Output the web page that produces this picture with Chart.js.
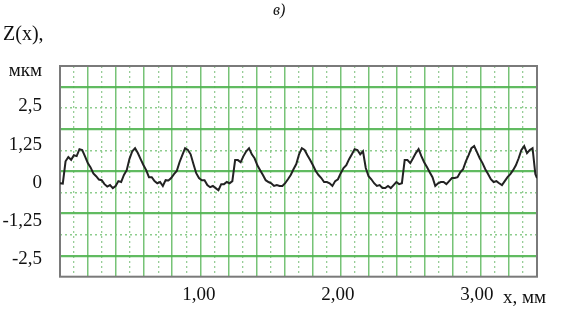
<!DOCTYPE html>
<html>
<head>
<meta charset="utf-8">
<script src="https://cdn.jsdelivr.net/npm/chart.js@4/dist/chart.umd.min.js"></script>
<style>
  html, body { margin: 0; padding: 0; background: #fff; }
  #wrap { width: 561px; height: 310px; position: relative; }
</style>
</head>
<body>
<div id="wrap"><canvas id="c" width="561" height="310"></canvas></div>
<script>
// x positions along the profile, mm
const xs = [
  0.00,0.02,0.04,0.06,0.08,0.10,0.12,0.14,0.16,0.18,
  0.20,0.22,0.24,0.26,0.28,0.30,0.32,0.34,0.36,0.38,
  0.40,0.42,0.44,0.46,0.48,0.50,0.52,0.54,0.56,0.58,
  0.60,0.62,0.64,0.66,0.68,0.70,0.72,0.74,0.76,0.78,
  0.80,0.82,0.84,0.86,0.88,0.90,0.92,0.94,0.96,0.98,
  1.00,1.02,1.04,1.06,1.08,1.10,1.12,1.14,1.16,1.18,
  1.20,1.22,1.24,1.26,1.28,1.30,1.32,1.34,1.36,1.38,
  1.40,1.42,1.44,1.46,1.48,1.50,1.52,1.54,1.56,1.58,
  1.60,1.62,1.64,1.66,1.68,1.70,1.72,1.74,1.76,1.78,
  1.80,1.82,1.84,1.86,1.88,1.90,1.92,1.94,1.96,1.98,
  2.00,2.02,2.04,2.06,2.08,2.10,2.12,2.14,2.16,2.18,
  2.20,2.22,2.24,2.26,2.28,2.30,2.32,2.34,2.36,2.38,
  2.40,2.42,2.44,2.46,2.48,2.50,2.52,2.54,2.56,2.58,
  2.60,2.62,2.64,2.66,2.68,2.70,2.72,2.74,2.76,2.78,
  2.80,2.82,2.84,2.86,2.88,2.90,2.92,2.94,2.96,2.98,
  3.00,3.02,3.04,3.06,3.08,3.10,3.12,3.14,3.16,3.18,
  3.20,3.22,3.24,3.26,3.28,3.30,3.32,3.34,3.36,3.38,
  3.40,3.42,3.432
];
// profile height Z(x), µm
const zs = [
  -0.02,-0.03,0.70,0.84,0.75,0.90,0.87,1.10,1.07,0.86,
  0.64,0.50,0.30,0.21,0.10,0.08,-0.05,-0.13,-0.08,-0.18,
  -0.11,0.05,0.02,0.25,0.41,0.78,1.03,1.13,0.97,0.77,
  0.58,0.41,0.18,0.18,0.05,-0.02,0.02,-0.11,0.08,0.07,
  0.15,0.28,0.38,0.67,0.90,1.13,1.07,0.93,0.61,0.31,
  0.15,0.08,0.08,-0.08,-0.15,-0.11,-0.18,-0.25,-0.05,-0.05,
  0.02,-0.02,0.05,0.74,0.74,0.67,0.87,1.03,1.13,0.93,
  0.80,0.57,0.41,0.25,0.08,0.02,-0.02,-0.11,-0.08,-0.11,
  -0.11,-0.02,0.11,0.25,0.44,0.61,0.93,1.13,1.07,0.90,
  0.74,0.57,0.38,0.25,0.15,0.02,0.02,-0.02,-0.11,0.05,
  0.11,0.31,0.48,0.57,0.77,0.93,1.10,1.07,0.93,1.03,
  0.48,0.21,0.11,-0.02,-0.11,-0.08,-0.18,-0.18,-0.11,-0.18,
  -0.08,0.02,-0.05,-0.02,0.74,0.74,0.64,0.80,0.97,1.10,
  0.87,0.67,0.51,0.34,0.18,-0.11,-0.02,0.02,0.02,-0.05,
  0.05,0.15,0.15,0.18,0.34,0.44,0.70,0.90,1.13,1.20,
  1.00,0.80,0.64,0.44,0.28,0.11,0.02,0.05,-0.02,-0.08,
  0.05,0.18,0.28,0.41,0.57,0.80,1.07,1.20,0.97,1.07,
  1.13,0.28,0.15
];
const xTicks = [1, 2, 3];
const xTickLabels = ['1,00', '2,00', '3,00'];
const yTicks = [2.5, 1.25, 0, -1.25, -2.5];
const yTickLabels = ['2,5', '1,25', '0', '-1,25', '-2,5'];
const titleText = 'в)';
const yTitleText = 'Z(x),';
const yUnitText = 'мкм';
const xUnitText = 'x, мм';

const SERIF = '"Liberation Serif", "Times New Roman", serif';

function makeGridAxis(pos, max, pick, color, width, dash) {
  return {
    type: 'linear', position: pos, min: 0, max: max, display: true,
    ticks: { display: false },
    grid: { color: color, lineWidth: width, drawTicks: false },
    border: { display: false, dash: dash },
    afterBuildTicks: (s) => {
      const t = [];
      for (let v = 1; v < max; v++) if (pick(v)) t.push({ value: v });
      s.ticks = t;
    },
    afterFit: (s) => { if (pos === 'bottom') s.height = 0; else s.width = 0; }
  };
}

const textPlugin = {
  id: 'texts',
  beforeDatasetsDraw(chart) {
    const { ctx, chartArea: a } = chart;
    ctx.save();
    ctx.strokeStyle = '#7a7a7a';
    ctx.lineWidth = 2;
    ctx.strokeRect(a.left, a.top, a.right - a.left, a.bottom - a.top);
    ctx.restore();
  },
  afterDraw(chart) {
    const { ctx } = chart;
    ctx.save();
    ctx.fillStyle = '#111';
    ctx.textBaseline = 'alphabetic';
    ctx.textAlign = 'left';
    ctx.font = 'italic 16px ' + SERIF;
    ctx.fillText(titleText, 273, 15);
    ctx.font = '20px ' + SERIF;
    ctx.fillText(yTitleText, 3, 40);
    ctx.font = '19px ' + SERIF;
    ctx.fillText(xUnitText, 503, 303);
    ctx.textAlign = 'right';
    ctx.font = '19px ' + SERIF;
    ctx.fillText(yUnitText, 42, 76);
    ctx.restore();
  }
};

new Chart(document.getElementById('c'), {
  type: 'line',
  data: {
    datasets: [{
      data: xs.map((x, i) => ({ x: x, y: zs[i] })),
      xAxisID: 'x', yAxisID: 'y',
      borderColor: '#222', borderWidth: 2,
      pointRadius: 0, tension: 0, fill: false
    }]
  },
  options: {
    responsive: false, animation: false, parsing: true,
    layout: { padding: { top: 66, right: 24, left: 0, bottom: 0 } },
    plugins: { legend: { display: false }, tooltip: { enabled: false } },
    scales: {
      x: {
        type: 'linear', position: 'bottom', min: 0, max: 3.432,
        grid: { display: false, drawTicks: false }, border: { display: false },
        afterBuildTicks: (s) => { s.ticks = xTicks.map(v => ({ value: v })); },
        afterFit: (s) => { s.height = 33.3; },
        ticks: {
          autoSkip: false, maxRotation: 0, padding: 7, color: '#111',
          font: { family: SERIF, size: 19 },
          callback: (v) => { const i = xTicks.indexOf(v); return i >= 0 ? xTickLabels[i] : ''; }
        }
      },
      y: {
        type: 'linear', position: 'left', min: -3.09, max: 3.83,
        grid: { display: false, drawTicks: false }, border: { display: false },
        afterBuildTicks: (s) => { s.ticks = yTicks.map(v => ({ value: v })); },
        afterFit: (s) => { s.width = 60; },
        ticks: {
          autoSkip: false, padding: 18, color: '#111',
          font: { family: SERIF, size: 19 },
          callback: (v) => { const i = yTicks.indexOf(v); return i >= 0 ? yTickLabels[i] : ''; }
        }
      },
      gxMajor: makeGridAxis('bottom', 34, v => v % 2 === 0, 'rgba(95,185,95,0.85)', 1.5, []),
      gxMinor: makeGridAxis('bottom', 34, v => v % 2 === 1, 'rgba(140,200,140,0.9)', 1.3, [2, 3]),
      gyMajor: makeGridAxis('left', 10, v => v % 2 === 1, 'rgba(80,180,80,0.9)', 2.2, []),
      gyMinor: makeGridAxis('left', 10, v => v % 2 === 0, 'rgba(130,200,130,0.9)', 1.5, [2, 3])
    }
  },
  plugins: [textPlugin]
});
</script>
</body>
</html>
